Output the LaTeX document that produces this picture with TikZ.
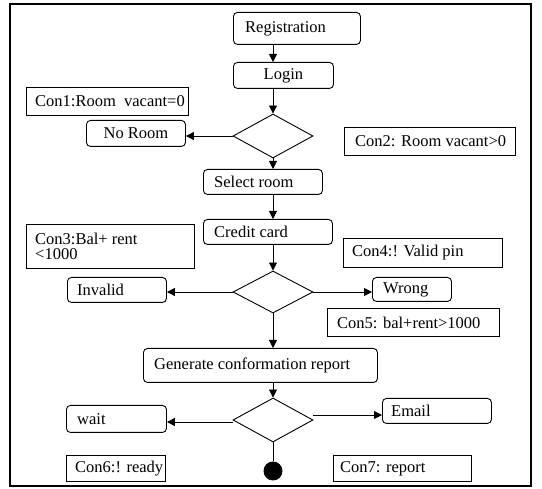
\documentclass[tikz,border=0pt]{standalone}
\usepackage{fontspec}
\setmainfont{Liberation Serif}
\usetikzlibrary{shapes.geometric,arrows.meta}
\begin{document}
\begin{tikzpicture}[x=1pt,y=-1pt,
  font=\fontsize{16.5}{15.5}\selectfont,
  box/.style={draw, line width=0.9pt, inner sep=0pt, anchor=north west},
  act/.style={box, rounded corners=4pt},
  cond/.style={box},
  txt/.style={anchor=west, inner sep=0pt, align=left},
  dec/.style={draw, diamond, line width=0.9pt, inner sep=0pt,
              minimum width=80pt, minimum height=44pt},
  arr/.style={line width=0.9pt, -{Triangle[length=8pt,width=8pt]}},
  link/.style={line width=0.9pt}]
\useasboundingbox (0,0) rectangle (542,489);
% outer frame
\draw[line width=2.4pt] (10,4) rectangle (531,486);

% activities (rounded boxes)
\node[act, minimum width=127pt, minimum height=32pt] (reg) at (233,12) {};
\node[txt] (regt) at ([xshift=12pt]reg.west) {Registration};
\node[act, minimum width=100pt, minimum height=26pt] (login) at (233,62) {Login};
\node[act, minimum width=99pt, minimum height=26pt] (nor) at (86,120) {No Room};
\node[act, minimum width=119pt, minimum height=25pt] (sel) at (203,169) {};
\node[txt] (selt) at ([xshift=11pt]sel.west) {Select room};
\node[act, minimum width=129pt, minimum height=25pt] (cc) at (203,219) {};
\node[txt] (cct) at ([xshift=11pt]cc.west) {Credit card};
\node[act, minimum width=99pt, minimum height=25pt] (inv) at (67,277) {};
\node[txt] (invt) at ([xshift=10pt]inv.west) {Invalid};
\node[act, minimum width=79pt, minimum height=24pt] (wrong) at (372,277) {};
\node[txt] (wrongt) at ([xshift=11pt]wrong.west) {Wrong};
\node[act, minimum width=234pt, minimum height=34pt] (gen) at (143,348) {};
\node[txt] (gent) at ([xshift=11pt]gen.west) {Generate conformation report};
\node[act, minimum width=100pt, minimum height=27pt] (wait) at (66,405) {};
\node[txt] (waitt) at ([xshift=11pt]wait.west) {wait};
\node[act, minimum width=109pt, minimum height=25pt] (email) at (382,398) {};
\node[txt] (emailt) at ([xshift=9pt]email.west) {Email};

% conditions (plain boxes)
\node[cond, minimum width=162pt, minimum height=28pt] (c1) at (26,87) {};
\node[txt] (c1t) at ([xshift=9pt]c1.west) {Con1:Room\ \ vacant=0};
\node[cond, minimum width=171pt, minimum height=28pt] (c2) at (344,127) {};
\node[txt] (c2t) at ([xshift=11pt]c2.west) {Con2: Room vacant>0};
\node[cond, minimum width=168pt, minimum height=44pt] (c3) at (26,224) {};
\node[txt] (c3t) at ([xshift=9pt]c3.west) {Con3:Bal+ rent\\<1000};
\node[cond, minimum width=159pt, minimum height=29pt] (c4) at (343,238) {};
\node[txt] (c4t) at ([xshift=9pt]c4.west) {Con4:! Valid pin};
\node[cond, minimum width=172pt, minimum height=28pt] (c5) at (327,308) {};
\node[txt] (c5t) at ([xshift=10pt]c5.west) {Con5: bal+rent>1000};
\node[cond, minimum width=99pt, minimum height=26pt] (c6) at (66,455) {};
\node[txt] (c6t) at ([xshift=9pt]c6.west) {Con6:! ready};
\node[cond, minimum width=138pt, minimum height=26pt] (c7) at (333,455) {};
\node[txt] (c7t) at ([xshift=7pt]c7.west) {Con7: report};

% decisions and final state
\node[dec] (d1) at (273,136) {};
\node[dec, minimum height=42pt] (d2) at (273,292) {};
\node[dec] (d3) at (273,420) {};
\node[circle, fill, inner sep=0pt, minimum size=19pt] (end) at (273,471) {};

% main flow
\draw[arr] (reg.south -| d1.center) -- (login.north -| d1.center);
\draw[arr] (login.south -| d1.center) -- (d1.north);
\draw[arr] (d1.south) -- (sel.north -| d1.center);
\draw[arr] (sel.south -| d1.center) -- (cc.north -| d1.center);
\draw[arr] (cc.south -| d1.center) -- (d2.north);
\draw[arr] (d2.south) -- (gen.north -| d2.center);
\draw[arr] (gen.south -| d2.center) -- (d3.north);
\draw[link] (d3.south) -- (end.north);

% branches
\draw[arr] (d1.west) -- (d1.west -| nor.east);
\draw[arr] (d2.west) -- (d2.west -| inv.east);
\draw[arr] (d2.east) -- (d2.east -| wrong.west);
\draw[arr] ([yshift=-2pt]d3.west) -- ([yshift=-2pt]d3.west -| wait.east);
\draw[arr] ([yshift=5pt]d3.east) -- ([yshift=5pt]d3.east -| email.west);
\end{tikzpicture}
\end{document}
